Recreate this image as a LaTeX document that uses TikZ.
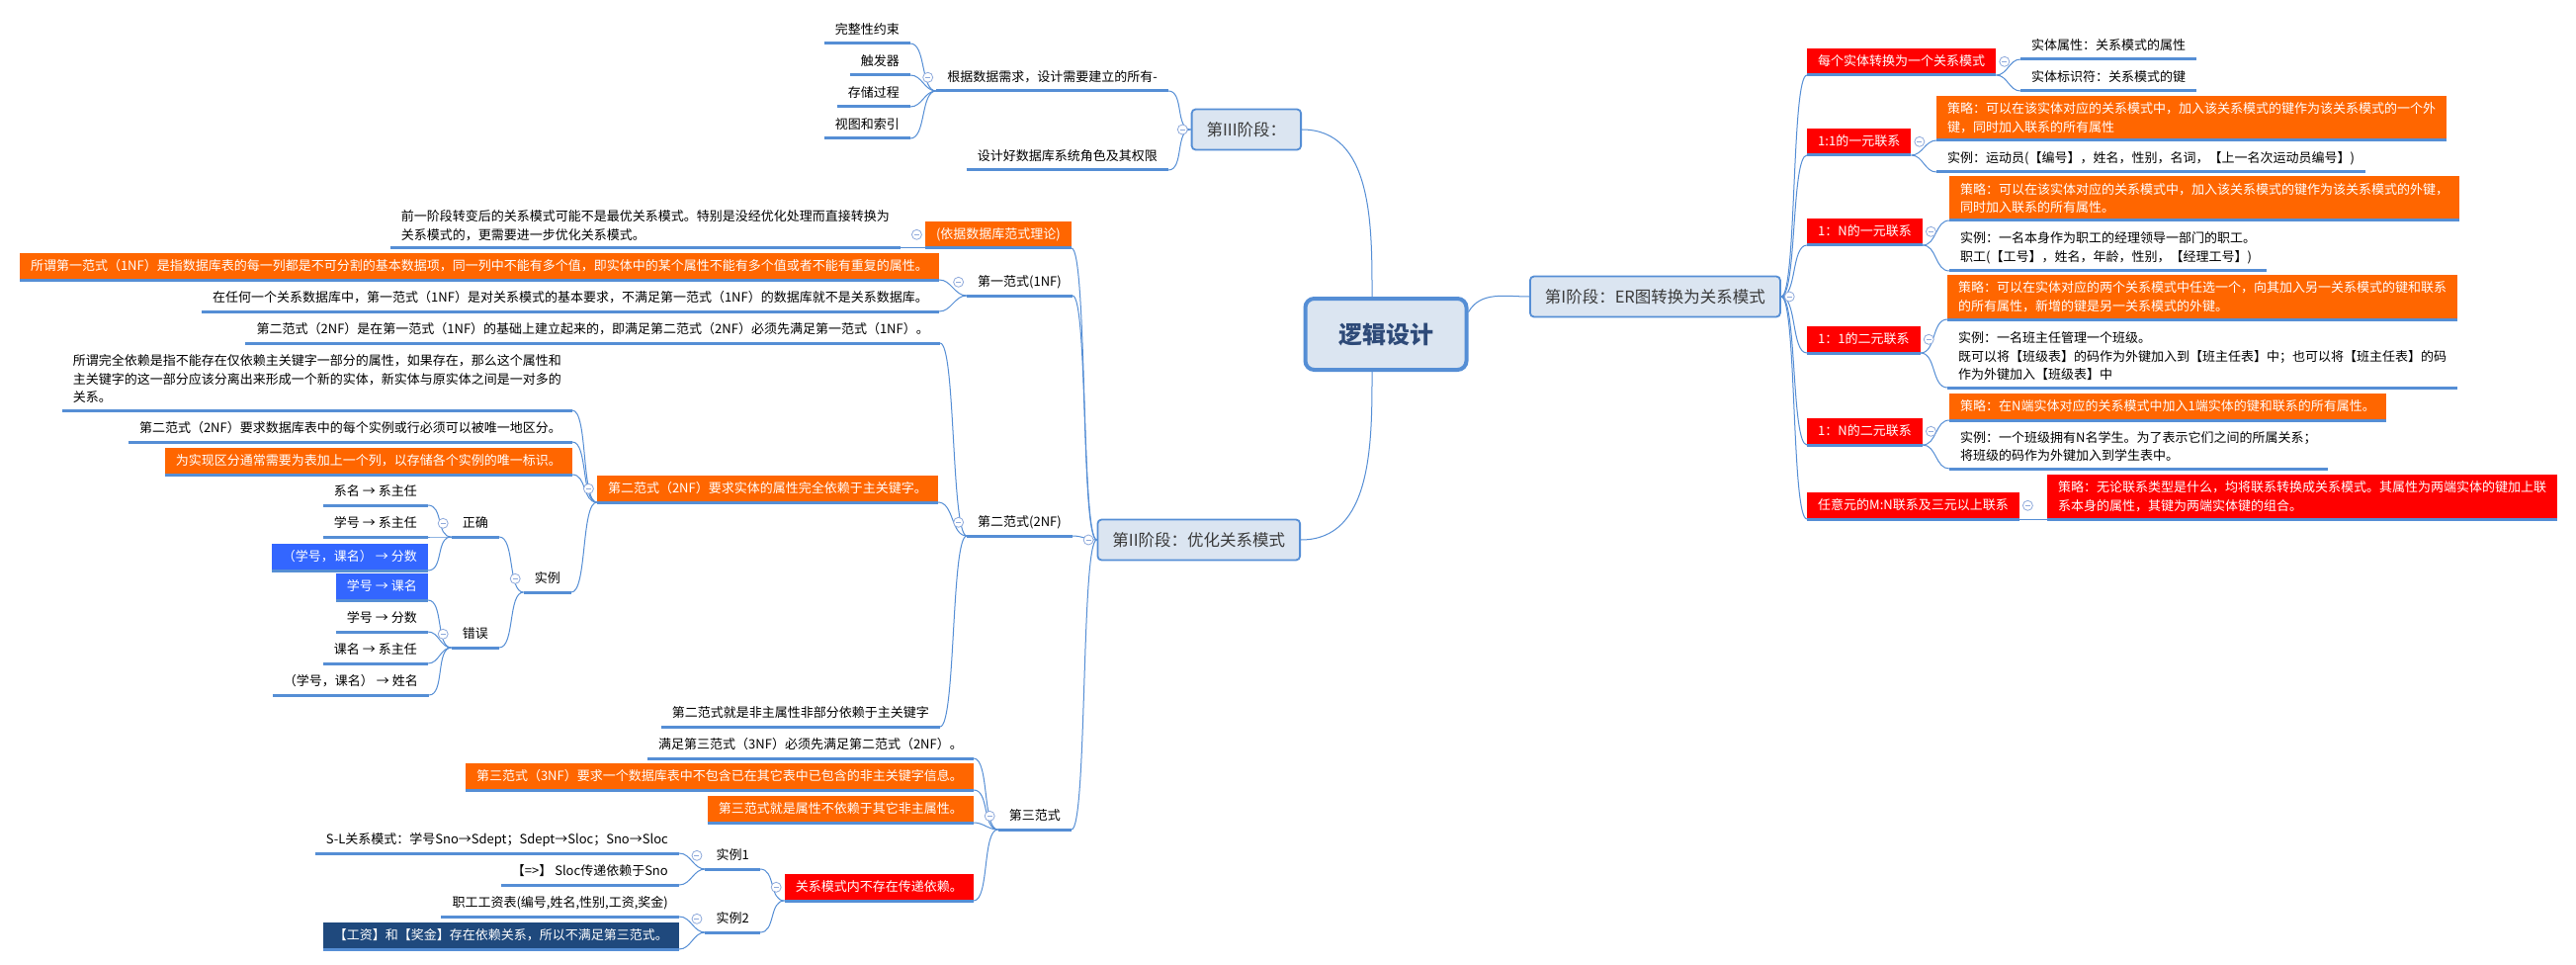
\documentclass[tikz,border=0pt]{standalone}
\usepackage{fontspec}
\setmainfont{Noto Sans CJK SC}
\usetikzlibrary{positioning}
\definecolor{mapline}{HTML}{558ED5}
\definecolor{foldline}{HTML}{8EA9DB}
\definecolor{stagefill}{HTML}{DBE5F1}
\definecolor{stagetext}{HTML}{3A3A3A}
\definecolor{roottext}{HTML}{2E4A78}
\definecolor{hotorange}{HTML}{FF6600}
\definecolor{warnred}{HTML}{FF0000}
\definecolor{keyblue}{HTML}{3366FF}
\definecolor{navy}{HTML}{1F497D}
\tikzset{
  branch/.style={draw=mapline, line width=1pt},
  goleft/.style={out=180, in=0, max distance=16pt},
  goright/.style={out=0, in=180, max distance=16pt},
  uline/.style={draw=mapline, line width=3pt},
  textbase/.style={font=\fontsize{13}{18.5}\selectfont, inner xsep=11pt, inner ysep=7pt, align=left,
    append after command={(\tikzlastnode.south west) edge[uline] (\tikzlastnode.south east)}},
  leaf/.style={textbase, text height=10.5pt, text depth=2.5pt},
  para/.style={textbase},
  hot/.style={fill=hotorange, text=white},
  warn/.style={fill=warnred, text=white},
  keybox/.style={fill=keyblue, text=white},
  navybox/.style={fill=navy, text=white},
  lside/.style={anchor=south east},
  rside/.style={anchor=south west},
  stagebox/.style={draw=mapline, line width=1.8pt, rounded corners=4pt, fill=stagefill, text=stagetext,
    font=\fontsize{16.5}{20}\selectfont, inner xsep=15pt, minimum height=41pt},
  rootbox/.style={draw=mapline, line width=4pt, rounded corners=9pt, fill=stagefill, text=roottext,
    font=\fontsize{24}{28}\selectfont\bfseries, minimum width=163pt, minimum height=72pt},
  foldmark/.style={circle, draw=foldline, fill=white, line width=0.8pt, inner sep=0pt, minimum size=10pt,
    path picture={\draw[foldline, line width=0.8pt] ([xshift=-2.5pt]path picture bounding box.center) -- ([xshift=2.5pt]path picture bounding box.center);}},
}
\begin{document}
\begin{tikzpicture}[x=1pt, y=-1pt]
  % Canvas
  \path[use as bounding box, fill=white] (0,0) rectangle (2606,976);
  % Centre and stages
  \node[rootbox] (root) at (1402,338) {逻辑设计};
  \node[stagebox, anchor=east] (s3) at (1317,131) {第III阶段：};
  \node[stagebox, anchor=west] (s1) at (1547,300) {第I阶段：ER图转换为关系模式};
  \node[stagebox, anchor=east] (s2) at (1316,546) {第II阶段：优化关系模式};
  \draw[branch] (root.15) to[out=60, in=180] (s1.west);
  \draw[branch] ([xshift=-14pt]root.north) to[out=90, in=0] (s3.east);
  \draw[branch] ([xshift=-14pt]root.south) to[out=270, in=0] (s2.east);

  % Stage III
  \node[leaf, lside] (need) at (1182,92) {根据数据需求，设计需要建立的所有-};
  \node[leaf, lside] (role) at (1182,172) {设计好数据库系统角色及其权限};
  \node[leaf, lside] (cons) at (921,44) {完整性约束};
  \node[leaf, lside] (trig) at (921,76) {触发器};
  \node[leaf, lside] (proc) at (921,108) {存储过程};
  \node[leaf, lside] (view) at (921,140) {视图和索引};

  % Stage I
  \node[leaf, warn, rside] (each) at (1828,76) {每个实体转换为一个关系模式};
  \node[leaf, rside] (attr) at (2044,60) {实体属性：关系模式的属性};
  \node[leaf, rside] (ident) at (2044,92) {实体标识符：关系模式的键};
  \node[leaf, warn, rside] (u11) at (1828,157) {1:1的一元联系};
  \node[para, hot, rside] (u11rule) at (1959,142) {策略：可以在该实体对应的关系模式中，加入该关系模式的键作为该关系模式的一个外\\键，同时加入联系的所有属性};
  \node[leaf, rside] (u11ex) at (1959,174) {实例：运动员(【编号】，姓名，性别，名词，【上一名次运动员编号】)};
  \node[leaf, warn, rside] (u1n) at (1828,248) {1：N的一元联系};
  \node[para, hot, rside] (u1nrule) at (1972,223) {策略：可以在该实体对应的关系模式中，加入该关系模式的键作为该关系模式的外键，\\同时加入联系的所有属性。};
  \node[para, rside] (u1nex) at (1972,274) {实例：一名本身作为职工的经理领导一部门的职工。\\职工(【工号】，姓名，年龄，性别，【经理工号】)};
  \node[leaf, warn, rside] (b11) at (1828,357) {1：1的二元联系};
  \node[para, hot, rside] (b11rule) at (1970,323) {策略：可以在实体对应的两个关系模式中任选一个，向其加入另一关系模式的键和联系\\的所有属性，新增的键是另一关系模式的外键。};
  \node[para, rside] (b11ex) at (1970,392) {实例：一名班主任管理一个班级。\\既可以将【班级表】的码作为外键加入到【班主任表】中；也可以将【班主任表】的码\\作为外键加入【班级表】中};
  \node[leaf, warn, rside] (b1n) at (1828,450) {1：N的二元联系};
  \node[leaf, hot, rside] (b1nrule) at (1972,425) {策略：在N端实体对应的关系模式中加入1端实体的键和联系的所有属性。};
  \node[para, rside] (b1nex) at (1972,474) {实例：一个班级拥有N名学生。为了表示它们之间的所属关系；\\将班级的码作为外键加入到学生表中。};
  \node[leaf, warn, rside] (mn) at (1828,525) {任意元的M:N联系及三元以上联系};
  \node[para, warn, rside] (mnrule) at (2071,525) {策略：无论联系类型是什么，均将联系转换成关系模式。其属性为两端实体的键加上联\\系本身的属性，其键为两端实体键的组合。};

  % Stage II
  \node[leaf, hot, lside] (basis) at (1084,251) {(依据数据库范式理论)};
  \node[para, lside] (prev) at (911,251) {前一阶段转变后的关系模式可能不是最优关系模式。特别是没经优化处理而直接转换为\\关系模式的，更需要进一步优化关系模式。};
  \node[leaf, lside] (nf1) at (1085,299) {第一范式(1NF)};
  \node[leaf, hot, lside] (nf1def) at (950,283) {所谓第一范式（1NF）是指数据库表的每一列都是不可分割的基本数据项，同一列中不能有多个值，即实体中的某个属性不能有多个值或者不能有重复的属性。};
  \node[leaf, lside] (nf1req) at (950,315) {在任何一个关系数据库中，第一范式（1NF）是对关系模式的基本要求，不满足第一范式（1NF）的数据库就不是关系数据库。};
  \node[leaf, lside] (nf2) at (1085,542) {第二范式(2NF)};
  \node[leaf, lside] (nf2base) at (951,347) {第二范式（2NF）是在第一范式（1NF）的基础上建立起来的，即满足第二范式（2NF）必须先满足第一范式（1NF）。};
  \node[leaf, hot, lside] (nf2full) at (949,508) {第二范式（2NF）要求实体的属性完全依赖于主关键字。};
  \node[para, lside] (fulldep) at (579,415) {所谓完全依赖是指不能存在仅依赖主关键字一部分的属性，如果存在，那么这个属性和\\主关键字的这一部分应该分离出来形成一个新的实体，新实体与原实体之间是一对多的\\关系。};
  \node[leaf, lside] (unique) at (579,447) {第二范式（2NF）要求数据库表中的每个实例或行必须可以被唯一地区分。};
  \node[leaf, hot, lside] (rowid) at (579,480) {为实现区分通常需要为表加上一个列，以存储各个实例的唯一标识。};
  \node[leaf, lside] (ex) at (578,599) {实例};
  \node[leaf, lside] (good) at (505,543) {正确};
  \node[leaf, lside] (bad) at (505,655) {错误};
  \node[leaf, lside] (g1) at (433,511) {系名 → 系主任};
  \node[leaf, lside] (g2) at (433,543) {学号 → 系主任};
  \node[leaf, keybox, lside] (g3) at (433,577) {（学号，课名） → 分数};
  \node[leaf, keybox, lside] (b1) at (433,607) {学号 → 课名};
  \node[leaf, lside] (b2) at (433,639) {学号 → 分数};
  \node[leaf, lside] (b3) at (433,671) {课名 → 系主任};
  \node[leaf, lside] (b4) at (434,703) {（学号，课名） → 姓名};
  \node[leaf, lside] (nf2sum) at (951,735) {第二范式就是非主属性非部分依赖于主关键字};
  \node[leaf, lside] (nf3) at (1084,839) {第三范式};
  \node[leaf, lside] (nf3pre) at (985,767) {满足第三范式（3NF）必须先满足第二范式（2NF）。};
  \node[leaf, hot, lside] (nf3def) at (985,799) {第三范式（3NF）要求一个数据库表中不包含已在其它表中已包含的非主关键字信息。};
  \node[leaf, hot, lside] (nf3sum) at (985,832) {第三范式就是属性不依赖于其它非主属性。};
  \node[leaf, warn, lside] (trans) at (985,911) {关系模式内不存在传递依赖。};
  \node[leaf, lside] (ex1) at (769,879) {实例1};
  \node[leaf, lside] (ex2) at (769,943) {实例2};
  \node[leaf, lside] (sl) at (687,863) {S-L关系模式：学号Sno→Sdept；Sdept→Sloc；Sno→Sloc};
  \node[leaf, lside] (sloc) at (687,895) {【=>】 Sloc传递依赖于Sno};
  \node[leaf, lside] (wage) at (687,927) {职工工资表(编号,姓名,性别,工资,奖金)};
  \node[leaf, navybox, lside] (bonus) at (687,960) {【工资】和【奖金】存在依赖关系，所以不满足第三范式。};

  % Branches to the left
  \foreach \c in {need,role}
    \draw[branch] (s3.west) to[goleft] (\c.south east);
  \foreach \c in {basis,nf1,nf2,nf3}
    \draw[branch] (s2.west) to[goleft] (\c.south east);
  \foreach \p/\c in {need/cons, need/trig, need/proc, need/view,
                     nf1/nf1def, nf1/nf1req,
                     nf2/nf2base, nf2/nf2full, nf2/nf2sum,
                     nf2full/fulldep, nf2full/unique, nf2full/rowid, nf2full/ex,
                     ex/good, ex/bad, good/g1, good/g2, good/g3,
                     bad/b1, bad/b2, bad/b3, bad/b4,
                     nf3/nf3pre, nf3/nf3def, nf3/nf3sum, nf3/trans,
                     trans/ex1, trans/ex2, ex1/sl, ex1/sloc, ex2/wage, ex2/bonus}
    \draw[branch] (\p.south west) to[goleft] (\c.south east);
  \draw[branch] (basis.south west) -- (prev.south east);

  % Branches to the right
  \foreach \c in {each,u11,u1n,b11,b1n,mn}
    \draw[branch] (s1.east) to[goright] (\c.south west);
  \foreach \p/\c in {each/attr, each/ident, u11/u11rule, u11/u11ex,
                     u1n/u1nrule, u1n/u1nex, b11/b11rule, b11/b11ex,
                     b1n/b1nrule, b1n/b1nex}
    \draw[branch] (\p.south east) to[goright] (\c.south west);
  \draw[branch] (mn.south east) -- (mnrule.south west);

  % Fold markers
  \foreach \n in {s3,need,s2,basis,nf1,nf2,nf2full,ex,good,bad,nf3,trans,ex1,ex2}
    \node[foldmark, left=3pt of \n] (\n-fold) {};
  \foreach \n in {s1,each,u11,u1n,b11,b1n,mn}
    \node[foldmark, right=3pt of \n] (\n-fold) {};
\end{tikzpicture}
\end{document}
